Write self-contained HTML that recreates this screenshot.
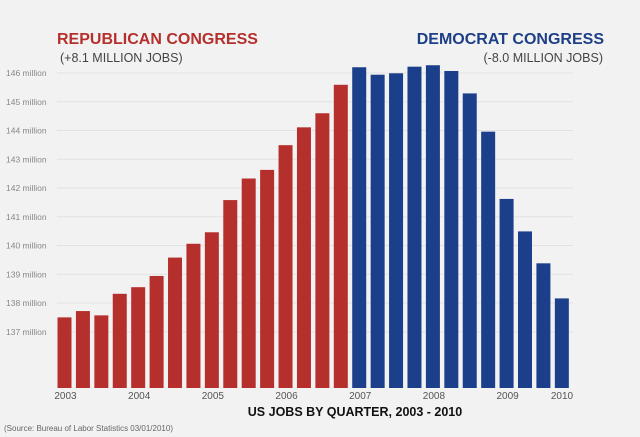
<!DOCTYPE html>
<html><head><meta charset="utf-8"><style>
body{margin:0;background:#f2f2f2;}
svg{display:block;font-family:"Liberation Sans",sans-serif;}
</style></head><body>
<svg width="640" height="437" viewBox="0 0 640 437">
<rect width="640" height="437" fill="#f2f2f2"/>
<text x="57" y="44" font-size="16" font-weight="bold" fill="#b5302c">REPUBLICAN CONGRESS</text>
<text x="60" y="62" font-size="12.5" fill="#444">(+8.1 MILLION JOBS)</text>
<text x="604" y="44" font-size="16" font-weight="bold" fill="#1d3f86" text-anchor="end">DEMOCRAT CONGRESS</text>
<text x="603" y="62" font-size="12.5" fill="#444" text-anchor="end">(-8.0 MILLION JOBS)</text>
<g id="grid"></g><g id="bars"></g><g id="xlab"></g>
<text x="355" y="416" font-size="12.5" font-weight="bold" fill="#111" text-anchor="middle">US JOBS BY QUARTER, 2003 - 2010</text>
<text x="4" y="431" font-size="8" fill="#666">(Source: Bureau of Labor Statistics 03/01/2010)</text>
</svg>
<script>
const repValues=[137.50,137.72,137.57,138.32,138.55,138.94,139.58,140.06,140.46,141.58,142.33,142.63,143.49,144.11,144.60,145.59];
const demValues=[146.20,145.94,145.99,146.22,146.27,146.07,145.29,143.96,141.62,140.49,139.38,138.16];
const yTicks=[137,138,139,140,141,142,143,144,145,146];
const years=["2003","2004","2005","2006","2007","2008","2009","2010"];
const NS="http://www.w3.org/2000/svg";
const y=v=>73+(146-v)*28.75;
const base=388, x0=57.5, pitch=18.42, bw=14;
const grid=document.getElementById('grid'),bars=document.getElementById('bars'),xl=document.getElementById('xlab');
yTicks.forEach(t=>{
 const l=document.createElementNS(NS,'line');
 l.setAttribute('x1',57);l.setAttribute('x2',573);l.setAttribute('y1',y(t));l.setAttribute('y2',y(t));
 l.setAttribute('stroke','#e2e2e2');l.setAttribute('stroke-width','1');
 
 
 grid.appendChild(l);
 const tx=document.createElementNS(NS,'text');
 tx.setAttribute('x',6);tx.setAttribute('y',y(t)+3);tx.setAttribute('font-size','8.5');tx.setAttribute('fill','#888');
 tx.textContent=t+' million';
 
 
 grid.appendChild(tx);
});
const all=repValues.map(v=>[v,'#b5302c']).concat(demValues.map(v=>[v,'#1b3f8a']));
all.forEach((d,i)=>{
 const r=document.createElementNS(NS,'rect');
 const top=y(d[0]);
 r.setAttribute('x',x0+i*pitch);r.setAttribute('y',top);r.setAttribute('width',bw);r.setAttribute('height',base-top);
 r.setAttribute('fill',d[1]);
 
 
 bars.appendChild(r);
});
years.forEach((yr,i)=>{
 const tx=document.createElementNS(NS,'text');
 tx.setAttribute('x',i==7?562:x0+i*4*pitch+8);tx.setAttribute('y',399);tx.setAttribute('font-size','10');tx.setAttribute('fill','#555');
 tx.setAttribute('text-anchor','middle');
 tx.textContent=yr;
 
 
 xl.appendChild(tx);
});
</script>
</body></html>
